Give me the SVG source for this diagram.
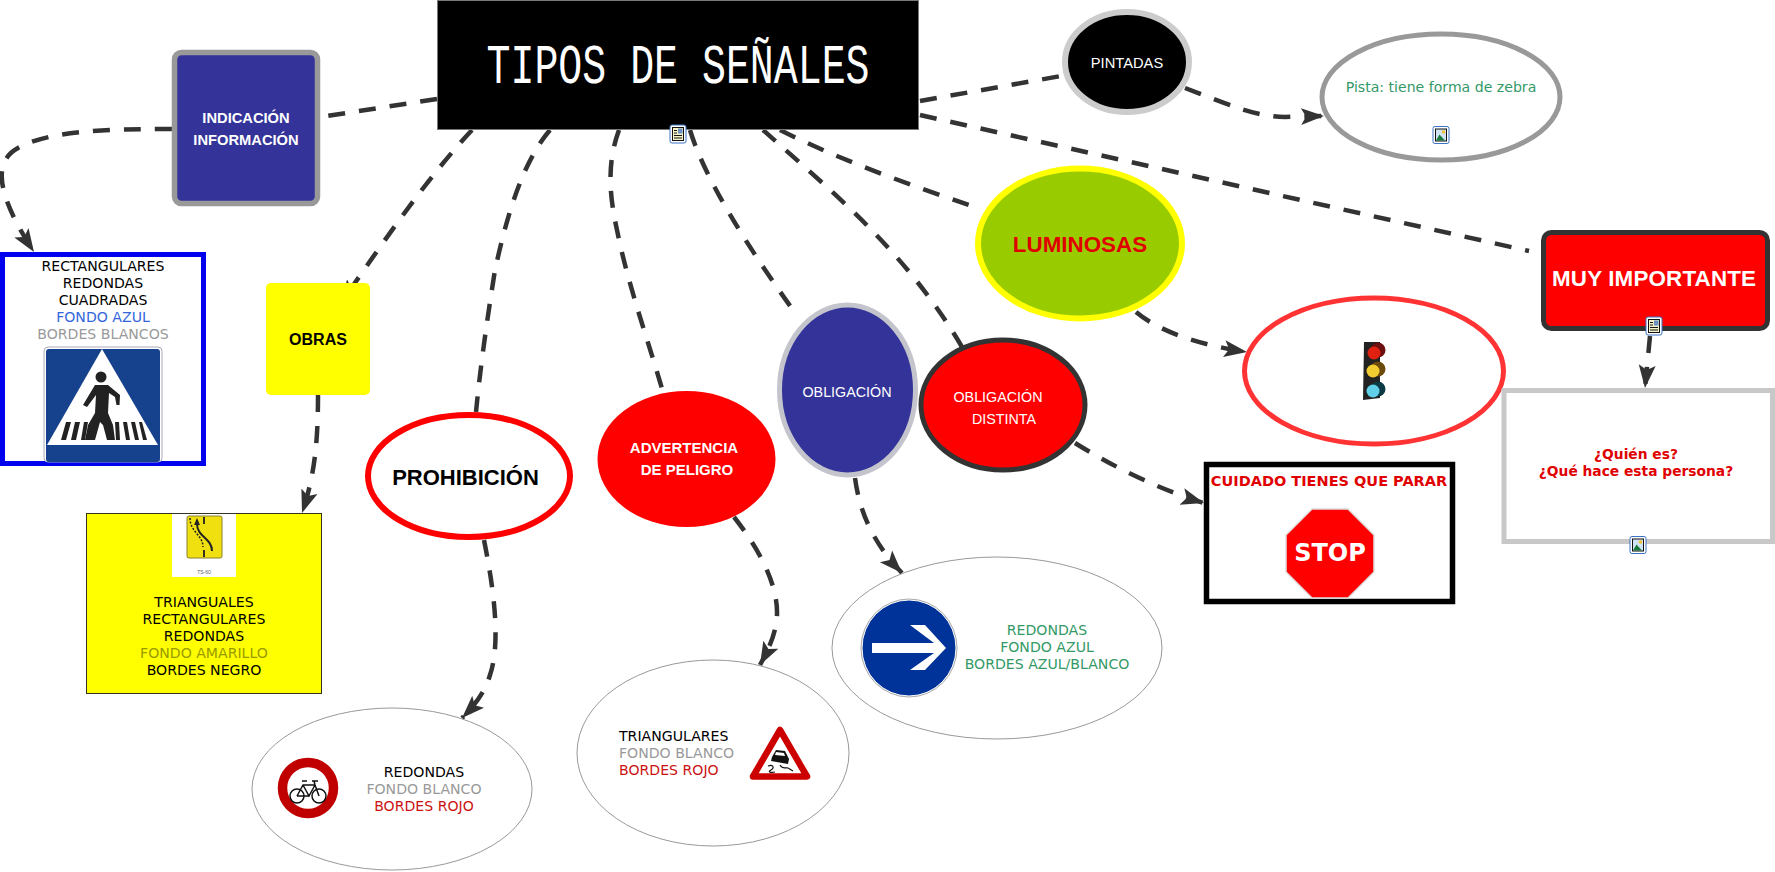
<svg xmlns="http://www.w3.org/2000/svg" xmlns:xlink="http://www.w3.org/1999/xlink" width="1775" height="872" viewBox="0 0 1775 872">
<style>
text{text-anchor:middle}
.a{font-family:"Liberation Sans",Arial,sans-serif}
.ab{font-family:"Liberation Sans",Arial,sans-serif;font-weight:bold}
.d{font-family:"DejaVu Sans",Verdana,sans-serif;font-size:14.100px}
.db{font-family:"DejaVu Sans",Verdana,sans-serif;font-weight:bold;font-size:13.800px;fill:#e00000}
.w{fill:#fff}
.k{fill:#000}
.g{fill:#999}
.r{fill:#cc1111}
.gr{fill:#339966}
.c path{fill:none;stroke:#333;stroke-width:4.500;stroke-dasharray:17 14}
.c path.e{marker-end:url(#ah)}
</style>
<defs>
<marker id="ah" markerUnits="userSpaceOnUse" markerWidth="26" markerHeight="20" refX="23" refY="9" orient="auto">
<path d="M0,0.500L23,9L0,17.500L5,9Z" fill="#333"/>
</marker>
<g id="doc">
<rect x="-8" y="-9" width="16" height="18" rx="2" fill="#fff" stroke="#3b73c4" stroke-width="1"/>
<rect x="-5.500" y="-6.500" width="11" height="13" fill="#f6f3c8" stroke="#111" stroke-width="1"/>
<path d="M-4,-3.500H-1M-4,-1H-1M-4,1.500H4M-4,4H4" stroke="#111" stroke-width="1"/>
<rect x="0" y="-5.500" width="4.500" height="5" fill="#6a8fc0"/>
</g>
<g id="pic">
<rect x="-8" y="-8.500" width="16" height="17" rx="2" fill="#fff" stroke="#3b73c4" stroke-width="1"/>
<rect x="-5.500" y="-6" width="11" height="12" fill="#cfe3f5" stroke="#111" stroke-width="1"/>
<circle cx="2.500" cy="-3" r="1.800" fill="#f2c530"/>
<path d="M-5,5.500L-1.500,-0.500L4,5.500Z" fill="#1d7a3c"/>
</g>
</defs>

<g id="connectors" class="c">
<path d="M437,99L327,116"/>
<path class="e" d="M172,129C110,129 50,130 18,148C-10,163 0,200 34,252"/>
<path class="e" d="M472,130C430,175 390,232 341,303"/>
<path class="e" d="M318,395C318,440 315,475 302,513"/>
<path d="M550,130C520,165 505,225 495,270C487,320 480,370 476,412"/>
<path class="e" d="M484,540C492,580 502,640 490,675C485,692 475,705 462,718"/>
<path d="M619,130C608,160 608,190 617,230C628,285 648,340 663,392"/>
<path class="e" d="M734,517C760,550 778,585 777,615C776,635 768,650 760,665"/>
<path d="M690,130C705,180 750,250 793,310"/>
<path class="e" d="M855,478C860,515 875,545 902,573"/>
<path d="M763,130C830,190 905,250 962,347"/>
<path class="e" d="M1075,443C1110,465 1160,490 1204,503"/>
<path d="M780,130C840,160 910,185 975,207"/>
<path class="e" d="M1136,312C1160,332 1200,345 1247,352"/>
<path d="M920,101L1061,76"/>
<path class="e" d="M1185,88C1225,103 1255,117 1285,117L1324,116"/>
<path d="M920,115L1529,251"/>
<path class="e" d="M1650,336L1645,388"/>
</g>

<g id="n-title">
<rect x="437.500" y="0.500" width="481" height="129" fill="#000" stroke="#777" stroke-width="1"/>
<text x="678" y="83" class="w" font-family="Liberation Mono,monospace" font-size="56" textLength="383" lengthAdjust="spacingAndGlyphs">TIPOS DE SEÑALES</text>
<use xlink:href="#doc" href="#doc" x="678" y="134"/>
</g>

<g id="n-indicacion">
<rect x="174.500" y="52.500" width="143" height="151" rx="7" fill="#333399" stroke="#999" stroke-width="5.500"/>
<text x="246" y="123" class="ab w" font-size="14.700">INDICACIÓN</text>
<text x="246" y="145" class="ab w" font-size="14.700">INFORMACIÓN</text>
</g>

<g id="n-rectangulares">
<rect x="2.500" y="254.500" width="201" height="209" fill="#fff" stroke="#0000ee" stroke-width="5"/>
<text x="103" y="271" class="d k">RECTANGULARES</text>
<text x="103" y="288" class="d k">REDONDAS</text>
<text x="103" y="305" class="d k">CUADRADAS</text>
<text x="103" y="322" class="d" fill="#3366dd">FONDO AZUL</text>
<text x="103" y="339" class="d g">BORDES BLANCOS</text>
<rect x="44" y="347" width="118" height="115" rx="4" fill="#fff" stroke="#aab" stroke-width="1"/>
<rect x="46" y="349" width="114" height="113" rx="3" fill="#16418c"/>
<path d="M102,349L158,445H47Z" fill="#fff"/>
<circle cx="101" cy="377" r="5.500" fill="#222"/>
<path d="M95,385H108L120,395L119.500,405H116.500L115,397L109,393L108,413L113,425L115,440H107L103,425L100,422L95,440H85L88,425L95,413L96,395L87,407L83,405Z" fill="#222"/>
<path d="M66,422H71L66,440H61ZM75,422H80L76,440H71ZM84,422H88L85,440H81ZM115,422H119L120,440H116ZM123,422H127L130,440H126ZM131,422H135L139,440H135ZM139,422H142L147,440H143Z" fill="#222"/>
</g>

<g id="n-obras">
<rect x="266" y="283" width="104" height="112" rx="5" fill="#ff0"/>
<text x="318" y="345" class="ab k" font-size="16">OBRAS</text>
</g>

<g id="n-triangulares-amarillo">
<rect x="86.500" y="513.500" width="235" height="180" fill="#ff0" stroke="#332" stroke-width="1"/>
<rect x="172" y="514" width="64" height="63" fill="#fff"/>
<rect x="187" y="516" width="35" height="42" rx="2" fill="#f0e010" stroke="#888030" stroke-width="1"/>
<path d="M204,517V524M204,550V557" fill="none" stroke="#222" stroke-width="1.800"/>
<path d="M190,518C190,532 203,535 203,547" fill="none" stroke="#222" stroke-width="1.500" stroke-dasharray="2 1.500"/>
<path d="M197,524C197,537 212,538 212,551" fill="none" stroke="#222" stroke-width="2"/>
<path d="M197,518L194,525H200Z" fill="#222"/>
<text x="204" y="574" font-family="Liberation Sans,sans-serif" font-size="5" fill="#666">TS-60</text>
<text x="204" y="607" class="d k">TRIANGUALES</text>
<text x="204" y="624" class="d k">RECTANGULARES</text>
<text x="204" y="641" class="d k">REDONDAS</text>
<text x="204" y="658" class="d" fill="#999900">FONDO AMARILLO</text>
<text x="204" y="675" class="d k">BORDES NEGRO</text>
</g>

<g id="n-prohibicion">
<ellipse cx="469" cy="476" rx="101" ry="61" fill="#fff" stroke="#f00" stroke-width="6"/>
<text x="465.500" y="485" class="ab k" font-size="22">PROHIBICIÓN</text>
</g>

<g id="n-redondas-rojo">
<ellipse cx="392" cy="789" rx="140" ry="81" fill="#fff" stroke="#999" stroke-width="1"/>
<circle cx="308" cy="788" r="25.500" fill="#fff" stroke="#c00000" stroke-width="9.500"/>
<g fill="none" stroke="#111" stroke-width="1.500">
<circle cx="297" cy="796" r="7"/><circle cx="319" cy="796" r="7"/>
<path d="M297,796L303,785H315L319,796M303,785L309,796L315,785M309,796H297M302,781H307M314,781L315,785M312,781H318"/>
</g>
<text x="424" y="777" class="d k">REDONDAS</text>
<text x="424" y="794" class="d g">FONDO BLANCO</text>
<text x="424" y="811" class="d r">BORDES ROJO</text>
</g>

<g id="n-advertencia">
<ellipse cx="686.500" cy="459" rx="89" ry="68" fill="#f00"/>
<text x="684" y="453" class="ab w" font-size="15">ADVERTENCIA</text>
<text x="687" y="475" class="ab w" font-size="15">DE PELIGRO</text>
</g>

<g id="n-triangulares-rojo">
<ellipse cx="713" cy="753" rx="136" ry="93" fill="#fff" stroke="#999" stroke-width="1"/>
<path d="M780,730L807,776.500H753Z" fill="#fff" stroke="#c00" stroke-width="6.500" stroke-linejoin="round"/>
<path d="M772,757L776,750L785,751L789,759L788,764L771,761Z" fill="#111"/>
<path d="M776,752L784,753L785,756L775,755Z" fill="#fff"/>
<path d="M768,766C773,764 775,768 771,770C767,772 771,773 775,772M780,765C783,770 786,767 788,768L793,771" fill="none" stroke="#111" stroke-width="1.200"/>
<text x="619" y="741" class="d k" style="text-anchor:start">TRIANGULARES</text>
<text x="619" y="758" class="d g" style="text-anchor:start">FONDO BLANCO</text>
<text x="619" y="775" class="d r" style="text-anchor:start">BORDES ROJO</text>
</g>

<g id="n-obligacion">
<ellipse cx="847.500" cy="390" rx="68" ry="85" fill="#333399" stroke="#c4c4cc" stroke-width="5"/>
<text x="847" y="397" class="a w" font-size="14.300">OBLIGACIÓN</text>
</g>

<g id="n-redondas-azul">
<ellipse cx="997" cy="648" rx="165" ry="91" fill="#fff" stroke="#999" stroke-width="1"/>
<ellipse cx="909" cy="648" rx="47" ry="48" fill="#003399" stroke="#fff" stroke-width="1"/>
<ellipse cx="909" cy="648" rx="48" ry="49" fill="none" stroke="#aaa" stroke-width="1"/>
<path d="M872,643H934L910,625H925L946,648L925,670H910L934,653H872Z" fill="#fff"/>
<text x="1047" y="635" class="d gr">REDONDAS</text>
<text x="1047" y="652" class="d gr">FONDO AZUL</text>
<text x="1047" y="669" class="d gr">BORDES AZUL/BLANCO</text>
</g>

<g id="n-distinta">
<ellipse cx="1003" cy="405" rx="82" ry="65" fill="#f00" stroke="#333" stroke-width="5"/>
<text x="998" y="402" class="a w" font-size="14.300">OBLIGACIÓN</text>
<text x="1004" y="424" class="a w" font-size="14.300">DISTINTA</text>
</g>

<g id="n-luminosas">
<ellipse cx="1080" cy="243.500" rx="102" ry="75" fill="#99cc00" stroke="#ff0" stroke-width="6"/>
<text x="1080" y="252" class="ab" fill="#e00000" font-size="22.400">LUMINOSAS</text>
</g>

<g id="n-pintadas">
<ellipse cx="1127" cy="62" rx="62" ry="50" fill="#000" stroke="#ccc" stroke-width="6"/>
<text x="1127" y="68" class="a w" font-size="14.700">PINTADAS</text>
</g>

<g id="n-pista">
<ellipse cx="1441" cy="97" rx="119" ry="63" fill="#fff" stroke="#999" stroke-width="5"/>
<text x="1441" y="92" class="d gr">Pista: tiene forma de zebra</text>
<use xlink:href="#pic" href="#pic" x="1441" y="135"/>
</g>

<g id="n-importante">
<rect x="1543.500" y="232.500" width="224" height="96" rx="8" fill="#f00" stroke="#333" stroke-width="5"/>
<text x="1654" y="286" class="ab w" font-size="22.400" textLength="204">MUY IMPORTANTE</text>
<use xlink:href="#doc" href="#doc" x="1654" y="326"/>
</g>

<g id="n-semaforo">
<ellipse cx="1374" cy="371" rx="129.500" ry="73" fill="#fff" stroke="#f33" stroke-width="5"/>
<path d="M1364,342H1380V398L1363,400Z" fill="#222"/>
<circle cx="1378" cy="350" r="7.500" fill="#6b0f0f"/><circle cx="1374" cy="353" r="6.500" fill="#e02010"/>
<circle cx="1378" cy="369" r="7.500" fill="#6b4a0a"/><circle cx="1373" cy="371" r="6.500" fill="#f0cc30"/>
<circle cx="1378" cy="389" r="7.500" fill="#0c3a44"/><circle cx="1373" cy="391" r="6.500" fill="#60d0e8"/>
</g>

<g id="n-persona">
<rect x="1504" y="390.500" width="268.500" height="151" fill="#fff" stroke="#c8c8c8" stroke-width="5"/>
<text x="1636" y="459" class="db">¿Quién es?</text>
<text x="1636" y="476" class="db">¿Qué hace esta persona?</text>
<use xlink:href="#pic" href="#pic" x="1638" y="545"/>
</g>

<g id="n-stop">
<rect x="1206.500" y="464.500" width="246" height="137" fill="#fff" stroke="#000" stroke-width="5.500"/>
<text x="1329" y="486" class="db" style="font-size:14.500px">CUIDADO TIENES QUE PARAR</text>
<path d="M1312,509H1348L1374,535V572L1348,598H1312L1286,572V535Z" fill="#f00" stroke="#ddd" stroke-width="1.500"/>
<text x="1330" y="561" font-family="DejaVu Sans,sans-serif" font-weight="bold" class="w" font-size="24">STOP</text>
</g>
</svg>
